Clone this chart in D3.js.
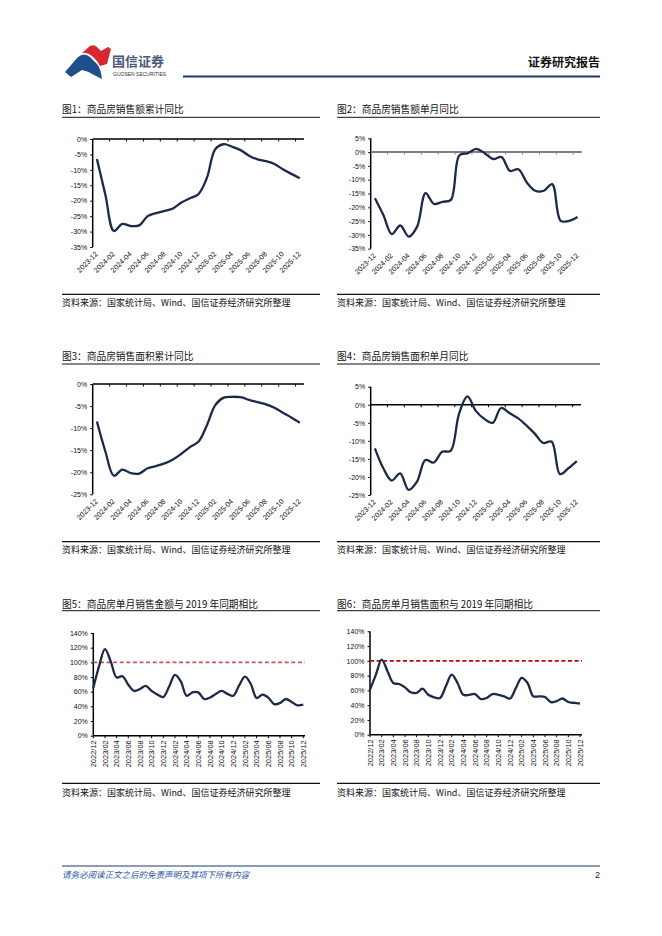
<!DOCTYPE html>
<html><head><meta charset="utf-8">
<script src="https://cdn.jsdelivr.net/npm/d3@7"></script>
<style>body{margin:0;background:#fff}svg{display:block}</style>
</head><body>
<svg id="page" width="662" height="936"></svg>
<script>
// ---------- data ----------
const months1 = ["2023-12","2024-01","2024-02","2024-03","2024-04","2024-05","2024-06","2024-07","2024-08","2024-09","2024-10","2024-11","2024-12","2025-01","2025-02","2025-03","2025-04","2025-05","2025-06","2025-07","2025-08","2025-09","2025-10","2025-11","2025-12"];
const months2 = ["2022/12","2023/01","2023/02","2023/03","2023/04","2023/05","2023/06","2023/07","2023/08","2023/09","2023/10","2023/11","2023/12","2024/01","2024/02","2024/03","2024/04","2024/05","2024/06","2024/07","2024/08","2024/09","2024/10","2024/11","2024/12","2025/01","2025/02","2025/03","2025/04","2025/05","2025/06","2025/07","2025/08","2025/09","2025/10","2025/11","2025/12"];

const salesAmountCumYoY   = [-6.5,-18.1,-29.8,-27.5,-28.2,-28.0,-25.0,-24.0,-23.3,-22.5,-20.6,-19.2,-17.9,-12.7,-3.3,-1.7,-2.5,-3.6,-5.4,-6.6,-7.2,-8.1,-9.8,-11.3,-12.7];
const salesAmountMonthYoY = [-16.7,-22.8,-29.7,-26.6,-30.6,-27.0,-14.9,-18.8,-18.0,-17.3,-1.2,-0.4,1.2,-0.4,-2.5,-1.8,-6.8,-6.2,-11.0,-14.0,-14.0,-11.6,-24.9,-24.9,-23.5];
const salesAreaCumYoY     = [-8.5,-15.3,-20.8,-19.4,-20.2,-20.3,-19.1,-18.6,-18.0,-17.1,-15.8,-14.3,-13.1,-9.4,-4.8,-3.1,-2.9,-3.0,-3.6,-4.1,-4.6,-5.4,-6.5,-7.6,-8.8];
const salesAreaMonthYoY   = [-12.1,-17.6,-21.0,-19.0,-23.6,-21.3,-15.3,-16.0,-13.0,-12.8,-2.5,2.3,-1.7,-3.9,-5.0,-0.9,-2.3,-3.7,-5.7,-8.0,-10.6,-10.2,-19.2,-17.6,-15.6];
const amountVs2019 = [65,95,118,101,79.5,81,69.5,61,63.6,68,61,56,52.7,67,83,74,54.5,59,59,50,52,57,61,57,54.5,68.6,80.5,70.5,51.4,56,52,43,44.5,50,46,41.4,42.3];
const areaVs2019   = [61,81,101.6,86,70,68.6,64,57.4,56.5,62.3,54,50.6,49.7,65.5,81.3,70,54,54,55,48.3,49.7,55,54,52,48.8,63,76.8,70,52,52,51,44,45.5,49,44.3,43,42];
const baseline2019 = 100;

const ticksPct1 = [0,-5,-10,-15,-20,-25,-30,-35];
const ticksPct2 = [5,0,-5,-10,-15,-20,-25,-30,-35];
const ticksPct3 = [0,-5,-10,-15,-20,-25];
const ticksPct4 = [5,0,-5,-10,-15,-20,-25];
const ticksPct5 = [0,20,40,60,80,100,120,140];

const titles = ["图1：商品房销售额累计同比","图2：商品房销售额单月同比","图3：商品房销售面积累计同比","图4：商品房销售面积单月同比","图5：商品房单月销售金额与 2019 年同期相比","图6：商品房单月销售面积与 2019 年同期相比"];
const sourceText = "资料来源：国家统计局、Wind、国信证券经济研究所整理";

// ---------- page ----------
const svg = d3.select("#page");
const CJK = "'Noto Sans CJK SC','Noto Sans',sans-serif";
const LAT = "'Liberation Sans',Arial,sans-serif";
const LINE = "#1b2a4a";

// header
const logo = svg.append("g");
logo.append("path").attr("d","M65,72 L78,57 Q84,52 90,57 L97,64 Q101,69 102,79 L94,75 Q88,71 82,70 L71,77 Z").attr("fill","#1f4e8c");
logo.append("path").attr("d","M82,53 L90,46 Q94,44 97,47 L101,51 L108,47 L111,49 L107,64 L100,66 Q97,60 92,56 Q87,52 82,53 Z").attr("fill","#d7282f");
svg.append("text").attr("x",112).attr("y",66).attr("font-family",CJK).attr("font-size",13).attr("font-weight","bold").attr("fill","#4a5878").text("国信证券");
svg.append("text").attr("x",113).attr("y",76).attr("font-family",LAT).attr("font-size",5).attr("fill","#333").text("GUOSEN SECURITIES");
svg.append("text").attr("x",600).attr("y",66.5).attr("text-anchor","end").attr("font-family",CJK).attr("font-size",12).attr("font-weight","bold").attr("fill","#111").text("证券研究报告");
svg.append("line").attr("x1",183).attr("x2",600).attr("y1",76.5).attr("y2",76.5).attr("stroke","#1f3a68").attr("stroke-width",2);

// footer
svg.append("line").attr("x1",62).attr("x2",600).attr("y1",866).attr("y2",866).attr("stroke","#1f3a68").attr("stroke-width",1);
svg.append("text").attr("x",62).attr("y",878).attr("font-family",CJK).attr("font-size",8.5).attr("font-style","italic").attr("fill","#2a57a0").text("请务必阅读正文之后的免责声明及其项下所有内容");
svg.append("text").attr("x",600).attr("y",878).attr("text-anchor","end").attr("font-family",LAT).attr("font-size",9).attr("fill","#111").text("2");

// frames
function frame(x0,x1,titleY,ulY,srcLineY,srcY,title){
  svg.append("text").attr("x",x0).attr("y",titleY).attr("font-family",CJK).attr("font-size",9.7).attr("fill","#111").text(title);
  svg.append("line").attr("x1",x0).attr("x2",x1).attr("y1",ulY).attr("y2",ulY).attr("stroke","#111").attr("stroke-width",1);
  svg.append("line").attr("x1",x0).attr("x2",x1).attr("y1",srcLineY).attr("y2",srcLineY).attr("stroke","#111").attr("stroke-width",1.2);
  svg.append("text").attr("x",x0).attr("y",srcY).attr("font-family",CJK).attr("font-size",9).attr("fill","#111").text(sourceText);
}
frame(62,320,112.5,117.3,294.3,305.5,titles[0]);
frame(337,600,112.5,117.3,294.3,305.5,titles[1]);
frame(62,320,359.5,364,541.7,552.5,titles[2]);
frame(337,600,359.5,364,541.7,552.5,titles[3]);
frame(62,320,607.5,610.7,783.3,795.5,titles[4]);
frame(337,600,607.5,610.7,783.3,795.5,titles[5]);

// YoY panels (category axis between tick marks)
function yoyPanel(o){
  const g = svg.append("g");
  const x = d3.scaleBand().domain(months1).range([o.left,o.right]).paddingInner(0).paddingOuter(0);
  const cx = m => x(m) + x.bandwidth()/2;
  const y = d3.scaleLinear().domain(o.domain).range([o.bottom,o.top]);
  const ya = g.append("g").attr("transform",`translate(${o.left},0)`)
    .call(d3.axisLeft(y).tickValues(o.ticks).tickSize(2.5).tickPadding(3).tickFormat(d=>d+"%"));
  ya.select(".domain").attr("stroke","#000").attr("stroke-width",1.5).attr("d",`M0,${y(o.domain[1])}V${y(o.domain[0])}`);
  ya.selectAll(".tick line").attr("stroke","#000").attr("stroke-width",1);
  ya.selectAll("text").attr("font-family",LAT).attr("font-size",7).attr("fill","#111");
  const z = y(0);
  g.append("line").attr("x1",o.left).attr("x2",o.right).attr("y1",z).attr("y2",z).attr("stroke",o.zeroColor).attr("stroke-width",o.zeroWidth);
  months1.forEach((m,i)=>{ if(i>0 && i%2===0){
    g.append("line").attr("x1",x(m)).attr("x2",x(m)).attr("y1",z).attr("y2",z+2.5).attr("stroke",o.zeroColor).attr("stroke-width",1);
  }});
  months1.forEach((m,i)=>{ if(i%2===0){
    const px = cx(m)+1.5, py = o.bottom+7.5;
    g.append("text").attr("transform",`translate(${px},${py}) rotate(-45)`).attr("text-anchor","end")
      .attr("font-family",LAT).attr("font-size",7.2).attr("fill","#111").text(m);
  }});
  const line = d3.line().x((d,i)=>cx(months1[i])).y(d=>y(d)).curve(d3.curveCatmullRom.alpha(0.5));
  g.append("path").datum(o.data).attr("d",line).attr("fill","none").attr("stroke",LINE).attr("stroke-width",2.3).attr("stroke-linejoin","round");
}
yoyPanel({left:92.7,right:304,top:139,bottom:247,domain:[-35,0],ticks:ticksPct1,data:salesAmountCumYoY,zeroColor:"#000",zeroWidth:1.5});
yoyPanel({left:370.7,right:581.7,top:138.3,bottom:248.7,domain:[-35,5],ticks:ticksPct2,data:salesAmountMonthYoY,zeroColor:"#7f7f7f",zeroWidth:2});
yoyPanel({left:92.7,right:304,top:384,bottom:494.3,domain:[-25,0],ticks:ticksPct3,data:salesAreaCumYoY,zeroColor:"#000",zeroWidth:1.5});
yoyPanel({left:370.7,right:581,top:386.7,bottom:495,domain:[-25,5],ticks:ticksPct4,data:salesAreaMonthYoY,zeroColor:"#000",zeroWidth:1.5});

// vs 2019 panels (points on tick marks)
function cmpPanel(o){
  const g = svg.append("g");
  const x = d3.scalePoint().domain(months2).range([o.left,o.right]).padding(0);
  const y = d3.scaleLinear().domain([0,140]).range([o.bottom,o.top]);
  const ya = g.append("g").attr("transform",`translate(${o.left},0)`)
    .call(d3.axisLeft(y).tickValues(ticksPct5).tickSize(2.5).tickPadding(3).tickFormat(d=>d+"%"));
  ya.select(".domain").attr("stroke","#000").attr("stroke-width",1.5).attr("d",`M0,${o.top}V${o.bottom}`);
  ya.selectAll(".tick line").attr("stroke","#000");
  ya.selectAll("text").attr("font-family",LAT).attr("font-size",7).attr("fill","#111");
  g.append("line").attr("x1",o.left).attr("x2",o.axisEnd).attr("y1",o.bottom).attr("y2",o.bottom).attr("stroke","#000").attr("stroke-width",1.5);
  months2.forEach((m,i)=>{ if(i%2===0){
    g.append("line").attr("x1",x(m)).attr("x2",x(m)).attr("y1",o.bottom).attr("y2",o.bottom+2.5).attr("stroke","#000").attr("stroke-width",1);
    g.append("text").attr("transform",`translate(${x(m)+2.6},${o.bottom+4.5}) rotate(-90)`).attr("text-anchor","end")
      .attr("font-family",LAT).attr("font-size",7.5).attr("fill","#111").text(m);
  }});
  g.append("line").attr("x1",o.left).attr("x2",o.axisEnd).attr("y1",y(baseline2019)).attr("y2",y(baseline2019))
    .attr("stroke",o.dashColor).attr("stroke-width",1.8).attr("stroke-dasharray","4,2.6");
  const line = d3.line().x((d,i)=>x(months2[i])).y(d=>y(d)).curve(d3.curveCatmullRom.alpha(0.5));
  g.append("path").datum(o.data).attr("d",line).attr("fill","none").attr("stroke",LINE).attr("stroke-width",2.3).attr("stroke-linejoin","round");
}
cmpPanel({left:93.3,right:303.3,axisEnd:305,top:633,bottom:735.7,data:amountVs2019,dashColor:"#c55a5a"});
cmpPanel({left:370,right:580,axisEnd:582,top:631.3,bottom:734.7,data:areaVs2019,dashColor:"#c00000"});
</script>
</body></html>
